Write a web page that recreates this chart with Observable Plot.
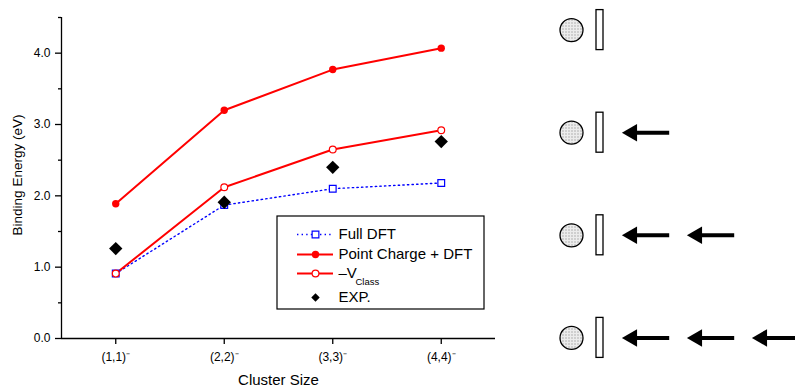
<!DOCTYPE html>
<html><head><meta charset="utf-8">
<script src="https://cdn.jsdelivr.net/npm/d3@7"></script>
<script src="https://cdn.jsdelivr.net/npm/@observablehq/plot@0.6"></script>
<style>
html,body{margin:0;padding:0;background:#fff;}
#wrap{position:relative;width:795px;height:387px;overflow:hidden;}
#wrap svg{position:absolute;left:0;top:0;}
</style></head><body><div id="wrap"></div>
<script>
// ---- data ----
const clusterSize = [1, 2, 3, 4];
const clusterLabels = ["(1,1)⁻", "(2,2)⁻", "(3,3)⁻", "(4,4)⁻"];
const fullDFT = [0.91, 1.87, 2.10, 2.18];
const pointCharge = [1.89, 3.20, 3.77, 4.07];
const vClass = [0.91, 2.12, 2.65, 2.92];
const expValues = [1.26, 1.91, 2.40, 2.76];
const yTicks = [0, 1, 2, 3, 4];
const yMinorTicks = [0.5, 1.5, 2.5, 3.5, 4.5];
const legendLabels = ["Full DFT", "Point Charge + DFT", "–V", "EXP."];
const legendSub = "Class";
const arrowCounts = [0, 1, 2, 3];

const rows = clusterSize.map((c, i) => ({c, full: fullDFT[i], pc: pointCharge[i], v: vClass[i], exp: expValues[i]}));
const FONT = "'Liberation Sans', Arial, Helvetica, sans-serif";
const BLUE = "#0000ff", RED = "#ff0000";

const main = Plot.plot({
  width: 540, height: 387,
  marginLeft: 61, marginRight: 45, marginTop: 17, marginBottom: 49,
  style: {fontFamily: FONT, fontSize: "12px", color: "#000", background: "transparent"},
  x: {domain: [0.5, 4.5]},
  y: {domain: [0, 4.5]},
  marks: [
    Plot.axisY({ticks: yTicks, tickFormat: d3.format(".1f"), tickSize: 6, tickPadding: 5, label: null, fontSize: 12, strokeWidth: 1.3}),
    Plot.axisY({ticks: yMinorTicks, tickSize: 3, text: null, label: null, strokeWidth: 1.3}),
    Plot.axisX({ticks: clusterSize, tickFormat: d => clusterLabels[d - 1], tickSize: 6, tickPadding: 8, label: null, fontSize: 12, strokeWidth: 1.3}),
    Plot.ruleX([0.5], {stroke: "#000", strokeWidth: 1.3}),
    Plot.ruleY([0], {stroke: "#000", strokeWidth: 1.3}),
    Plot.text(["Binding Energy (eV)"], {frameAnchor: "left", dx: -44, dy: -3, rotate: -90, textAnchor: "middle", lineAnchor: "middle", fontSize: 13.5}),
    Plot.text(["Cluster Size"], {frameAnchor: "bottom", dy: 42, textAnchor: "middle", lineAnchor: "middle", fontSize: 15}),
    Plot.line(rows, {x: "c", y: "full", stroke: BLUE, strokeWidth: 1.4, strokeDasharray: "1.4,3.2"}),
    Plot.line(rows, {x: "c", y: "pc", stroke: RED, strokeWidth: 2}),
    Plot.line(rows, {x: "c", y: "v", stroke: RED, strokeWidth: 2}),
    Plot.dot(rows, {x: "c", y: "full", symbol: "square", r: 3.8, stroke: BLUE, fill: "white", strokeWidth: 1.2}),
    Plot.dot(rows, {x: "c", y: "pc", r: 3.7, fill: RED}),
    Plot.dot(rows, {x: "c", y: "v", r: 3.4, fill: "white", stroke: RED, strokeWidth: 1.2}),
    Plot.dot(rows, {x: "c", y: "exp", symbol: "diamond2", r: 6, fill: "#000"})
  ]
});

// ---- legend & diagram layout (pixel positions) ----
const box = {x1: 277, x2: 484, y1: 216, y2: 309};
const legendRowY = [234, 254, 273, 297];
const sampleX1 = 297, sampleX2 = 333, markX = 315, textX = 338;
const legendRows = legendLabels.map((label, i) => ({label, y: legendRowY[i]}));

const rowY = arrowCounts.map((_, i) => 29.6 + i * 102.6);
const circleX = 571, barX1 = 596, barX2 = 603;
const arrowTip0 = 621.7, arrowStep = 65, arrowLen = 47.5;
const arrows = [];
arrowCounts.forEach((n, i) => { for (let k = 0; k < n; k++) arrows.push({tip: arrowTip0 + k * arrowStep, y: rowY[i]}); });
const diagRows = rowY.map(y => ({y}));

const overlay = Plot.plot({
  width: 795, height: 387, margin: 0,
  x: {type: "identity", axis: null}, y: {type: "identity", axis: null},
  style: {fontFamily: FONT, background: "transparent", color: "#000"},
  marks: [
    Plot.rect([box], {x1: "x1", x2: "x2", y1: "y1", y2: "y2", fill: "white", stroke: "#000", strokeWidth: 1.2}),
    Plot.ruleY([legendRows[0]], {y: "y", x1: sampleX1, x2: sampleX2, stroke: BLUE, strokeWidth: 1.4, strokeDasharray: "1.4,3.2"}),
    Plot.ruleY(legendRows.slice(1, 3), {y: "y", x1: sampleX1, x2: sampleX2, stroke: RED, strokeWidth: 2}),
    Plot.dot([legendRows[0]], {x: markX, y: "y", symbol: "square", r: 3.8, stroke: BLUE, fill: "white", strokeWidth: 1.2}),
    Plot.dot([legendRows[1]], {x: markX, y: "y", r: 3.7, fill: RED}),
    Plot.dot([legendRows[2]], {x: markX, y: "y", r: 3.4, fill: "white", stroke: RED, strokeWidth: 1.2}),
    Plot.dot([legendRows[3]], {x: markX, y: "y", symbol: "diamond2", r: 3.8, fill: "#000"}),
    Plot.text(legendRows, {x: textX, y: "y", text: "label", textAnchor: "start", fontSize: 15}),
    Plot.text([legendSub], {x: 355, y: legendRowY[2] + 8.5, textAnchor: "start", fontSize: 9.5}),
    // diagram
    Plot.dot(diagRows, {x: circleX, y: "y", r: 11.5, fill: "url(#stipple)", stroke: "#000", strokeWidth: 1.3}),
    Plot.rect(diagRows, {x1: barX1, x2: barX2, y1: d => d.y - 20, y2: d => d.y + 20, fill: "white", stroke: "#000", strokeWidth: 1.3}),
    Plot.ruleY(arrows, {y: "y", x1: d => d.tip + 8, x2: d => d.tip + arrowLen, stroke: "#000", strokeWidth: 4}),
    Plot.dot(arrows, {x: d => d.tip + 9.8, y: "y", symbol: "triangle", r: 6.5, fill: "#000", rotate: -90})
  ]
});

// stipple pattern
const defs = d3.select(overlay).insert("defs", ":first-child");
const pat = defs.append("pattern").attr("id", "stipple").attr("patternUnits", "userSpaceOnUse").attr("width", 3).attr("height", 3);
pat.append("rect").attr("width", 3).attr("height", 3).attr("fill", "#ececec");
pat.append("rect").attr("x", 1).attr("y", 1).attr("width", 1).attr("height", 1).attr("fill", "#777");

const wrap = document.getElementById("wrap");
wrap.appendChild(main);
wrap.appendChild(overlay);
</script>
</body></html>
